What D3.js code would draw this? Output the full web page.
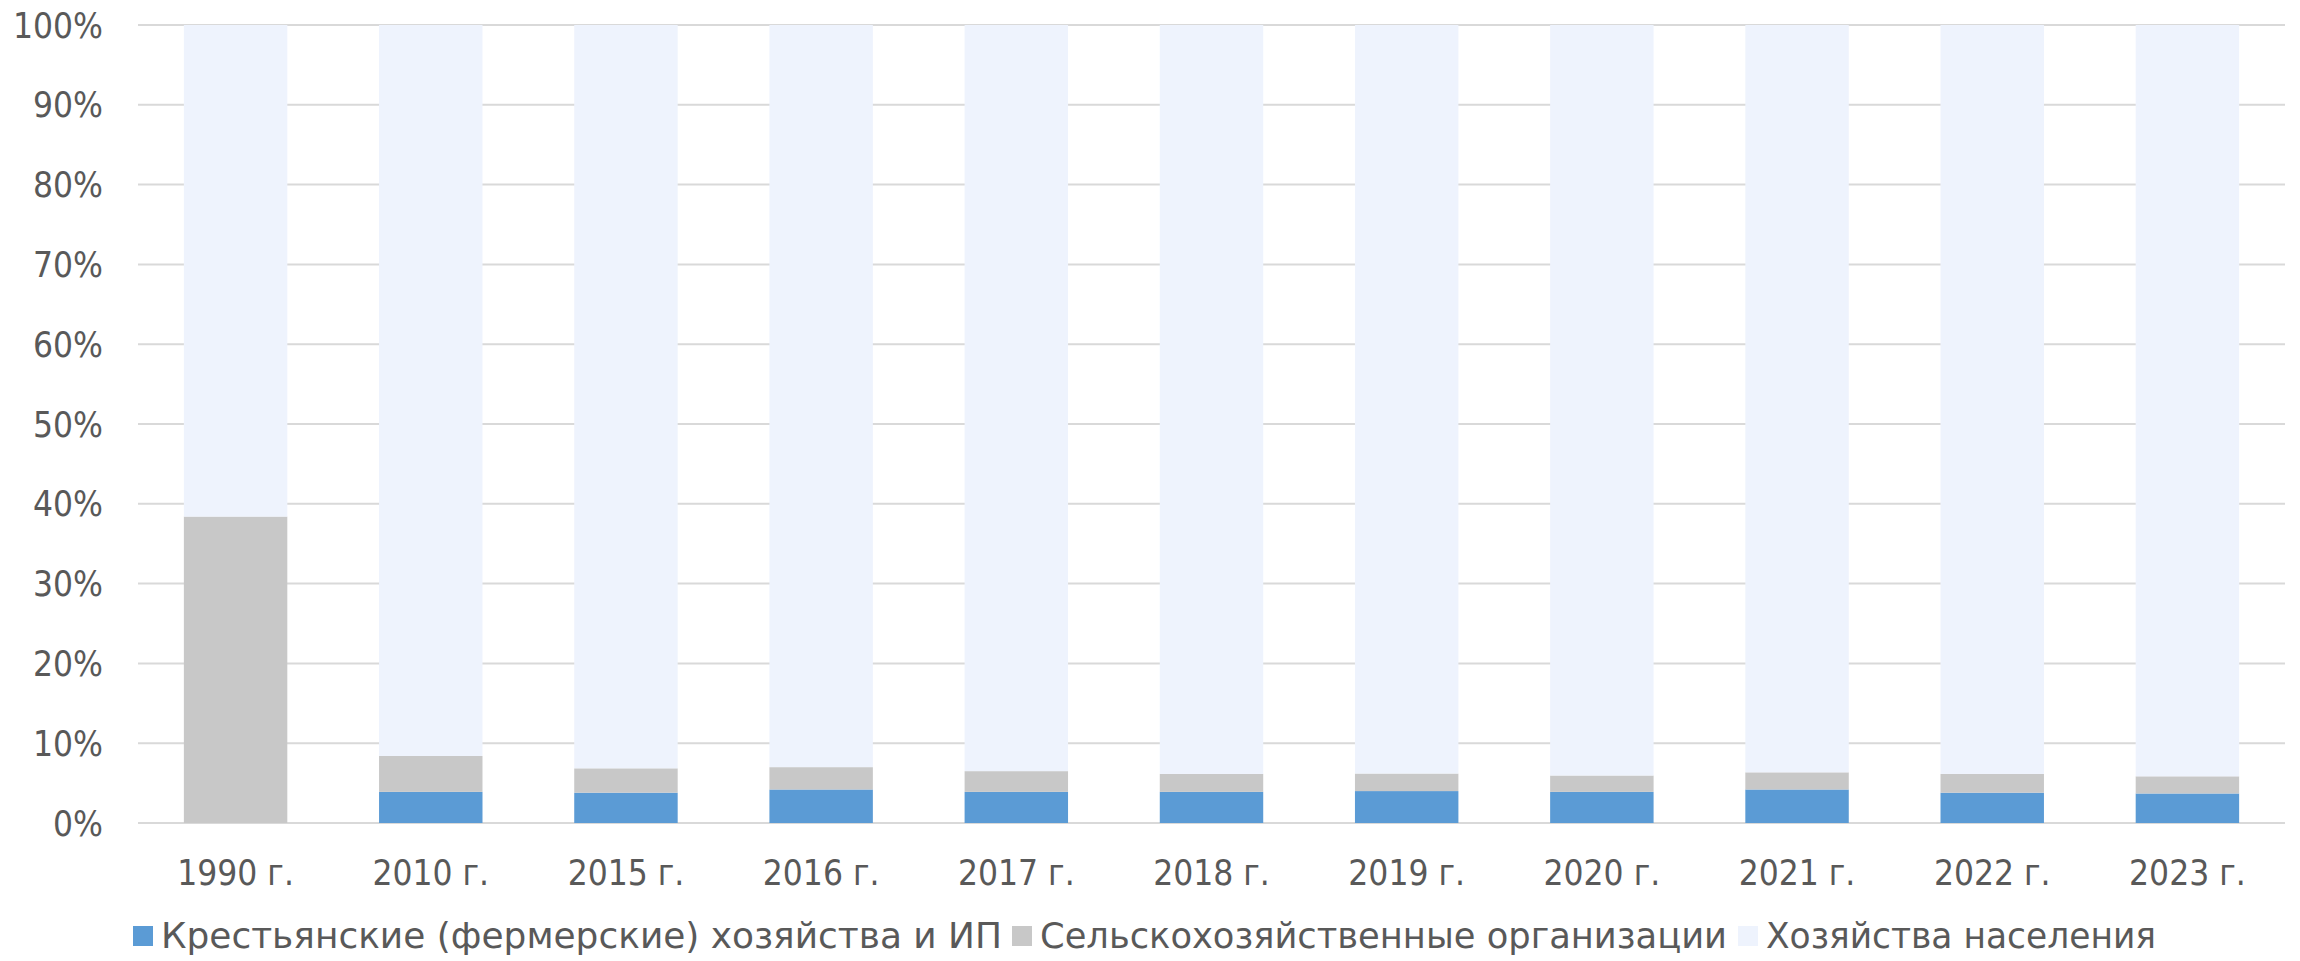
<!DOCTYPE html>
<html>
<head>
<meta charset="utf-8">
<script src="https://cdn.jsdelivr.net/npm/d3@7"></script>
<style>
  body { margin: 0; background: #fff; }
  text { font-family: "Liberation Sans Narrow", "DejaVu Sans Condensed", sans-serif; fill: #595959; }
</style>
</head>
<body>
<svg width="2300" height="961"></svg>
<script>
var years = ["1990 г.", "2010 г.", "2015 г.", "2016 г.", "2017 г.", "2018 г.", "2019 г.", "2020 г.", "2021 г.", "2022 г.", "2023 г."];
var farms = [0, 3.9, 3.8, 4.2, 3.9, 3.9, 4.0, 3.9, 4.2, 3.8, 3.7];
var orgs = [38.4, 4.5, 3.05, 2.8, 2.6, 2.25, 2.2, 2.05, 2.15, 2.35, 2.15];
var seriesNames = ["Крестьянские (фермерские) хозяйства и ИП", "Сельскохозяйственные организации", "Хозяйства населения"];
var colors = ["#5B9BD5", "#C8C8C8", "#EEF3FD"];
var yTicks = [0, 10, 20, 30, 40, 50, 60, 70, 80, 90, 100];

var rows = years.map(function(y, i) {
  return { year: y, farms: farms[i], orgs: orgs[i], home: 100 - farms[i] - orgs[i] };
});

var svg = d3.select("svg"),
  margin = { left: 138, right: 15, top: 25, bottom: 138 },
  width = +svg.attr("width") - margin.left - margin.right,
  height = +svg.attr("height") - margin.top - margin.bottom,
  g = svg.append("g").attr("transform", "translate(" + margin.left + "," + margin.top + ")");

var x = d3.scaleBand().domain(years).range([0, width]).paddingInner(0.47).paddingOuter(0.235);
var y = d3.scaleLinear().domain([0, 100]).range([height, 0]);

// grid
g.selectAll(".grid")
  .data(yTicks)
  .enter().append("line")
  .attr("x1", 0).attr("x2", width)
  .attr("y1", function(d) { return y(d); })
  .attr("y2", function(d) { return y(d); })
  .attr("stroke", "#D9D9D9")
  .attr("stroke-width", 2);

var stack = d3.stack().keys(["farms", "orgs", "home"]);
var layers = stack(rows);

g.selectAll(".layer")
  .data(layers)
  .enter().append("g")
  .attr("fill", function(d, i) { return colors[i]; })
  .selectAll("rect")
  .data(function(d) { return d; })
  .enter().append("rect")
  .attr("x", function(d) { return x(d.data.year); })
  .attr("width", x.bandwidth())
  .attr("y", function(d) { return y(d[1]); })
  .attr("height", function(d) { return y(d[0]) - y(d[1]); });

// y labels
svg.append("g").selectAll("text")
  .data(yTicks)
  .enter().append("text")
  .attr("x", 103)
  .attr("y", function(d) { return margin.top + y(d); })
  .attr("dy", "0.36em")
  .attr("text-anchor", "end")
  .style("font-size", "35px")
  .text(function(d) { return d + "%"; });

// x labels
svg.append("g").selectAll("text")
  .data(years)
  .enter().append("text")
  .attr("x", function(d) { return margin.left + x(d) + x.bandwidth() / 2; })
  .attr("y", 872)
  .attr("dy", "0.36em")
  .attr("text-anchor", "middle")
  .style("font-size", "35px")
  .text(function(d) { return d; });

// legend
var legendX = [133, 1012, 1738];
var legendW = [841, 687, 390];
var legend = svg.append("g").selectAll("g")
  .data(seriesNames)
  .enter().append("g")
  .attr("transform", function(d, i) { return "translate(" + legendX[i] + ",0)"; });

legend.append("rect")
  .attr("x", 0).attr("y", 926)
  .attr("width", 20).attr("height", 20)
  .attr("fill", function(d, i) { return colors[i]; });

legend.append("text")
  .attr("x", 28)
  .attr("y", 935)
  .attr("dy", "0.36em")
  .attr("textLength", function(d, i) { return legendW[i]; })
  .attr("lengthAdjust", "spacingAndGlyphs")
  .style("font-size", "35px")
  .text(function(d) { return d; });
</script>
</body>
</html>
